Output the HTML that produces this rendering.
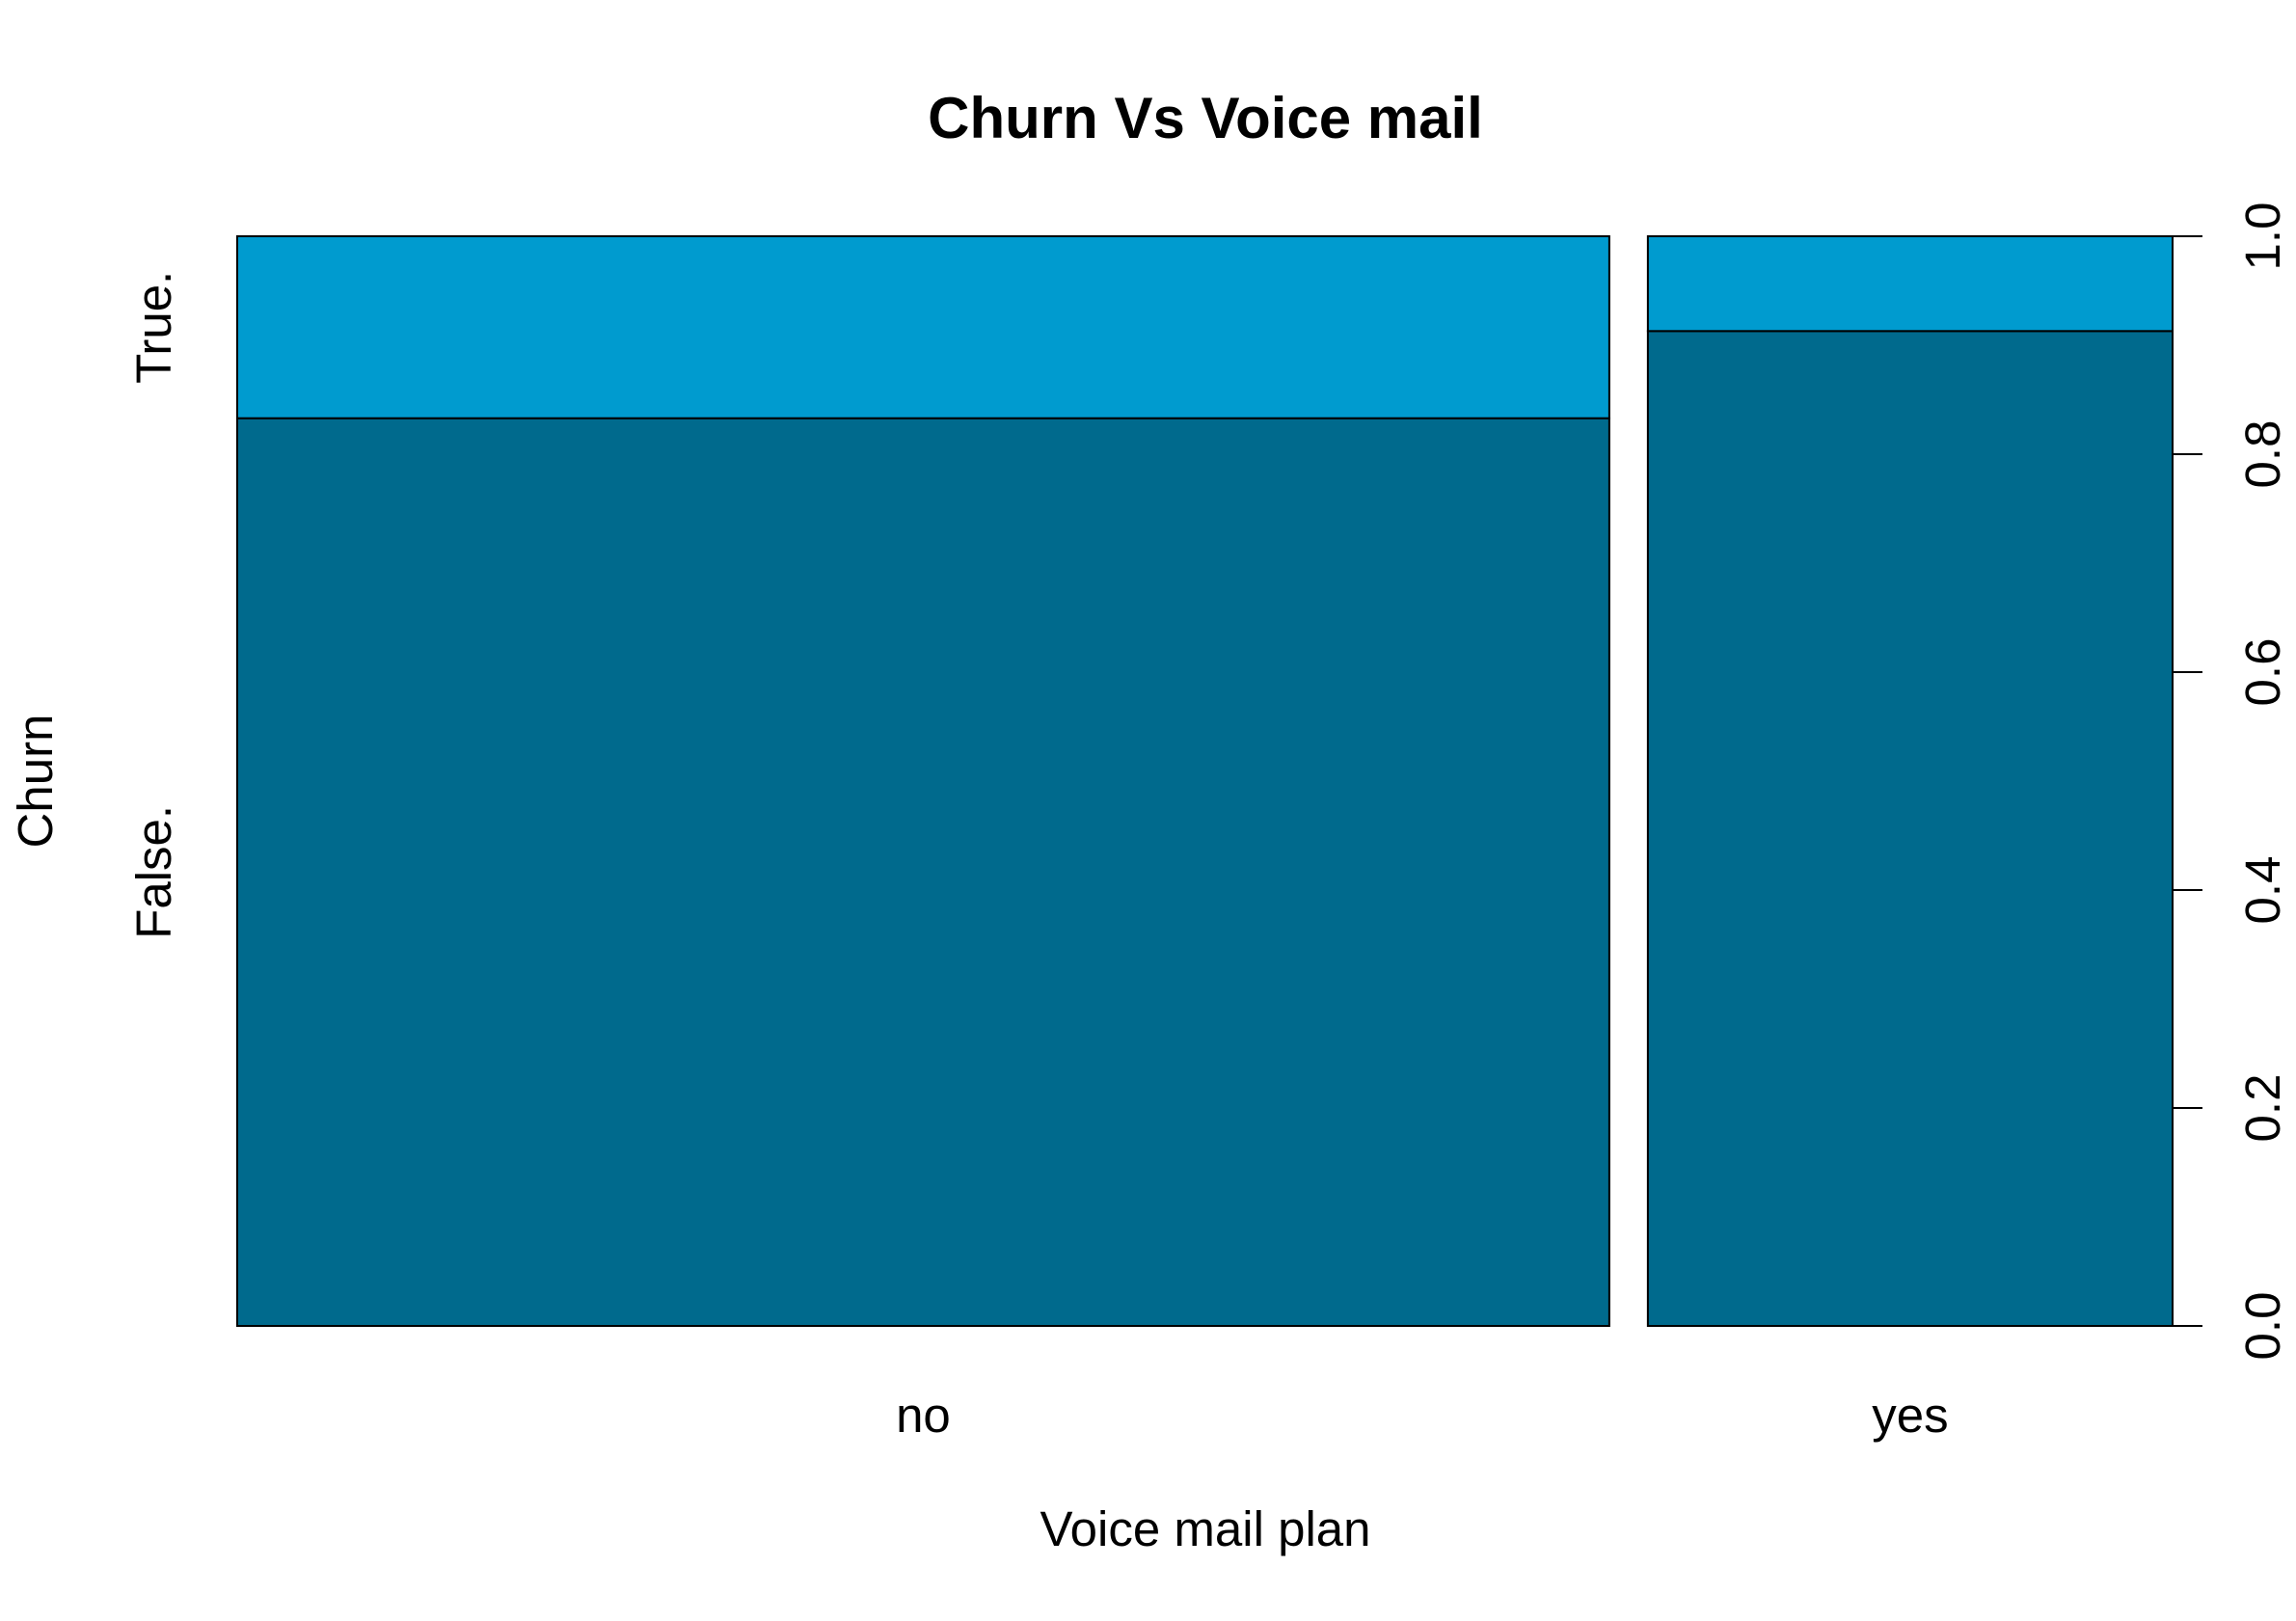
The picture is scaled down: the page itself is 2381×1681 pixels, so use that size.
<!DOCTYPE html>
<html><head><meta charset="utf-8"><style>
html,body{margin:0;padding:0;background:#fff;}
svg{display:block;font-family:"Liberation Sans",Arial,sans-serif;}
</style></head><body>
<svg id="chart" width="2381" height="1681" viewBox="0 0 2381 1681">
<text x="1250" y="143" text-anchor="middle" font-size="60" font-weight="bold">Churn Vs Voice mail</text>
<text x="1250" y="1603" text-anchor="middle" font-size="51">Voice mail plan</text>
<text transform="translate(54,810) rotate(-90)" text-anchor="middle" font-size="51">Churn</text>
<g id="bars"></g>
<g id="axis"></g>
</svg>
<script>
const categories = ["no", "yes"];
const counts = [2411, 922];
const falseShare = [0.833, 0.913];
const levels = ["False.", "True."];
const ticks = [0, 0.2, 0.4, 0.6, 0.8, 1.0];
const tickLabels = ["0.0", "0.2", "0.4", "0.6", "0.8", "1.0"];

const NS = "http://www.w3.org/2000/svg";
const plotLeft = 246, plotRight = 2253, plotTop = 245, plotBottom = 1375, barGap = 40;
const yScale = v => plotBottom - v * (plotBottom - plotTop);
const totalCount = counts.reduce((a, b) => a + b, 0);
const usableW = plotRight - plotLeft - barGap * (categories.length - 1);
const barsG = document.getElementById("bars");
const axisG = document.getElementById("axis");
function mk(tag, attrs, parent) {
  const e = document.createElementNS(NS, tag);
  for (const k in attrs) e.setAttribute(k, attrs[k]);
  parent.appendChild(e);
  return e;
}
let curX = plotLeft;
categories.forEach((c, i) => {
  const w = usableW * counts[i] / totalCount;
  const r1 = mk("rect", {x: curX, y: yScale(falseShare[i]), width: w, height: yScale(0) - yScale(falseShare[i]), fill: "#006A8D", stroke: "#000", "stroke-width": 2}, barsG);
  
  
  const r2 = mk("rect", {x: curX, y: yScale(1), width: w, height: yScale(falseShare[i]) - yScale(1), fill: "#009BCF", stroke: "#000", "stroke-width": 2}, barsG);
  
  
  const t = mk("text", {x: curX + w / 2, y: 1485, "text-anchor": "middle", "font-size": 51}, barsG);
  t.textContent = c;
  
  
  if (i === 0) {
    const mids = [falseShare[0] / 2, (1 + falseShare[0]) / 2];
    levels.forEach((lv, j) => {
      const yy = yScale(mids[j]);
      const lt = mk("text", {transform: "translate(177," + yy + ") rotate(-90)", "text-anchor": "middle", "font-size": 51}, axisG);
      lt.textContent = lv;
      
      
    });
  }
  curX += w + barGap;
});
const axLine = mk("line", {x1: plotRight, x2: plotRight, y1: yScale(0), y2: yScale(1), stroke: "#000", "stroke-width": 2}, axisG);


ticks.forEach((t, i) => {
  const tl = mk("line", {x1: plotRight, x2: plotRight + 31, y1: yScale(t), y2: yScale(t), stroke: "#000", "stroke-width": 2}, axisG);
  
  
  const tx = mk("text", {transform: "translate(2364," + yScale(t) + ") rotate(-90)", "text-anchor": "middle", "font-size": 51}, axisG);
  tx.textContent = tickLabels[i];
  
  
});
</script>
</body></html>
